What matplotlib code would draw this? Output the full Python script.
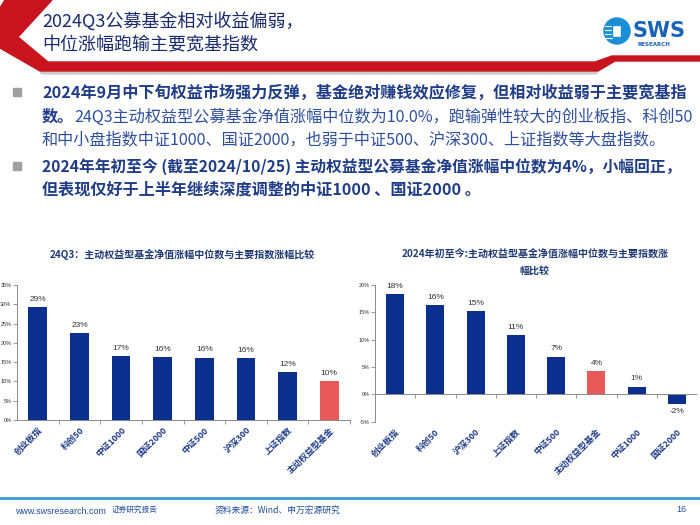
import matplotlib.pyplot as plt
from matplotlib.patches import Polygon, Circle, Rectangle

plt.rcParams['font.family'] = ['Noto Sans CJK SC', 'DejaVu Sans']

# 左图：24Q3
q3_names = ['创业板指', '科创50', '中证1000', '国证2000', '中证500', '沪深300', '上证指数', '主动权益型基金']
q3_values = [29.2, 22.6, 16.6, 16.3, 16.2, 16.0, 12.4, 10.0]
q3_ticks = [0, 5, 10, 15, 20, 25, 30, 35]

# 右图：年初至今
ytd_names = ['创业板指', '科创50', '沪深300', '上证指数', '中证500', '主动权益型基金', '中证1000', '国证2000']
ytd_values = [18.3, 16.4, 15.3, 10.9, 6.9, 4.2, 1.4, -1.7]
ytd_ticks = [-5, 0, 5, 10, 15, 20]

FUND_NAME = '主动权益型基金'
BLUE = '#0b2f8e'
RED = '#e85a5a'
W, H = 700, 525


def px_axes(fig, x0, y0, x1, y1):
    # 用像素坐标（左上角为原点）创建坐标轴
    return fig.add_axes([x0 / W, 1 - y1 / H, (x1 - x0) / W, (y1 - y0) / H])


def draw_bars(ax, names, values, ticks, zero_line=False):
    colors = [RED if n == FUND_NAME else BLUE for n in names]
    xs = list(range(len(names)))
    ax.bar(xs, values, width=0.45, color=colors, zorder=2)
    for x, v in zip(xs, values):
        off = 3 if v >= 0 else -3
        ax.annotate(f'{v:.0f}%', (x, v), xytext=(0, off), textcoords='offset points',
                    ha='center', va='bottom' if v >= 0 else 'top', fontsize=6,
                    color='#333333', family='Liberation Sans')
    ax.set_xlim(-0.5, len(names) - 0.5)
    ax.set_ylim(ticks[0], ticks[-1])
    ax.set_yticks(ticks)
    ax.set_yticklabels([f'{t}%' for t in ticks], fontsize=4.0, color='#333333', family='Liberation Sans')
    ax.set_xticks(xs)
    ax.set_xticklabels(names, rotation=45, ha='right', rotation_mode='anchor',
                       fontsize=6.3, color='#1f3c88', fontweight='bold')
    ax.tick_params(axis='x', length=0, pad=4)
    ax.tick_params(axis='y', length=3, width=0.6, color='#888888', pad=1)
    for s in ['top', 'right']:
        ax.spines[s].set_visible(False)
    ax.spines['left'].set_color('#888888')
    ax.spines['left'].set_linewidth(0.7)
    if zero_line:
        ax.spines['bottom'].set_visible(False)
        ax.axhline(0, color='#888888', linewidth=0.7, zorder=3)
        ax.vlines([i + 0.5 for i in xs], 0, -0.6, color='#888888', linewidth=0.6)
    else:
        ax.spines['bottom'].set_color('#888888')
        ax.spines['bottom'].set_linewidth(0.7)
        ax.set_xticks([i + 0.5 for i in xs], minor=True)
        ax.tick_params(axis='x', which='minor', length=3, width=0.6, color='#888888')


fig = plt.figure(figsize=(7, 5.25), dpi=100)

# 背景装饰层（像素坐标）
bg = fig.add_axes([0, 0, 1, 1])
bg.set_xlim(0, W)
bg.set_ylim(H, 0)
bg.axis('off')
bg.add_patch(Polygon([(40, 72), (598, 72), (596, 74), (42, 74)], closed=True, color='#cccccc', zorder=0))
bg.add_patch(Polygon([(5, 0), (52, 0), (18, 37), (48, 62), (595, 62), (612, 56), (700, 56),
                      (700, 61), (615, 61), (598, 71), (40, 71), (0, 48), (0, 8)],
                     closed=True, color='#c8141e', zorder=1))

# 标题
bg.text(42, 21, '2024Q3公募基金相对收益偏弱，', fontsize=13, color='#1a2c6e', va='center', ha='left')
bg.text(42, 45, '中位涨幅跑输主要宽基指数', fontsize=13, color='#1a2c6e', va='center', ha='left')

# 标志
bg.add_patch(Circle((617, 31), 13, color='#1a8fd8', zorder=2))
for yy in [26, 30, 34, 38]:
    bg.plot([605, 612], [yy, yy], color='white', linewidth=0.8, zorder=3)
bg.add_patch(Rectangle((612, 25), 9, 12, facecolor='white', edgecolor='#1a8fd8', zorder=3))
bg.text(633, 31, 'SWS', fontsize=15, fontweight='bold', color='#1763b8', va='center', ha='left',
        family='DejaVu Sans')
bg.text(637, 44, 'RESEARCH', fontsize=4, fontweight='bold', color='#1763b8', va='center', ha='left',
        family='DejaVu Sans')

# 要点文字
bold_c = '#1f3c88'
norm_c = '#2d4f9e'
fs = 11.6
bg.add_patch(Rectangle((13, 88), 8, 8, color='#a0a0a0'))
bg.add_patch(Rectangle((13, 162), 8, 8, color='#a0a0a0'))
bg.text(42, 93, '2024年9月中下旬权益市场强力反弹，基金绝对赚钱效应修复，但相对收益弱于主要宽基指',
        fontsize=fs, fontweight='bold', color=bold_c, va='center')
t_bold = bg.text(42, 117, '数。', fontsize=fs, fontweight='bold', color=bold_c, va='center')
bg.text(42, 140, '和中小盘指数中证1000、国证2000，也弱于中证500、沪深300、上证指数等大盘指数。',
        fontsize=fs, color=norm_c, va='center')
bg.text(42, 167, '2024年年初至今 (截至2024/10/25) 主动权益型公募基金净值涨幅中位数为4%，小幅回正，',
        fontsize=11.3, fontweight='bold', color=bold_c, va='center')
bg.text(42, 190, '但表现仅好于上半年继续深度调整的中证1000 、国证2000 。',
        fontsize=fs, fontweight='bold', color=bold_c, va='center')

fig.canvas.draw()
bb = t_bold.get_window_extent().transformed(bg.transData.inverted())
bg.text(bb.x1, 117, '24Q3主动权益型公募基金净值涨幅中位数为10.0%，跑输弹性较大的创业板指、科创50',
        fontsize=fs, color=norm_c, va='center')

# 图标题
bg.text(182, 254, '24Q3：主动权益型基金净值涨幅中位数与主要指数涨幅比较',
        fontsize=7.2, fontweight='bold', color='#1f3a75', ha='center', va='center')
bg.text(535, 254, '2024年初至今:主动权益型基金净值涨幅中位数与主要指数涨',
        fontsize=7.2, fontweight='bold', color='#1f3a75', ha='center', va='center')
bg.text(535, 271, '幅比较', fontsize=7.2, fontweight='bold', color='#1f3a75', ha='center', va='center')

ax1 = px_axes(fig, 17, 285, 350, 420)
draw_bars(ax1, q3_names, q3_values, q3_ticks)

ax2 = px_axes(fig, 375, 285, 697, 421.6)
draw_bars(ax2, ytd_names, ytd_values, ytd_ticks, zero_line=True)

# 页脚
bg.plot([0, W], [498, 498], color='#3b9ad6', linewidth=2)
bg.text(15, 511, 'www.swsresearch.com', fontsize=6.4, color='#1f4e9a', va='center', family='Liberation Sans')
bg.text(112, 510, '证券研究报告', fontsize=5.5, color='#1f4e9a', va='center')
bg.text(215, 510, '资料来源：Wind、申万宏源研究', fontsize=6.3, color='#1f4e9a', va='center')
bg.text(676, 510, '16', fontsize=6.5, color='#1f4e9a', va='center', family='Liberation Sans')

fig.savefig('out.png', dpi=100)
